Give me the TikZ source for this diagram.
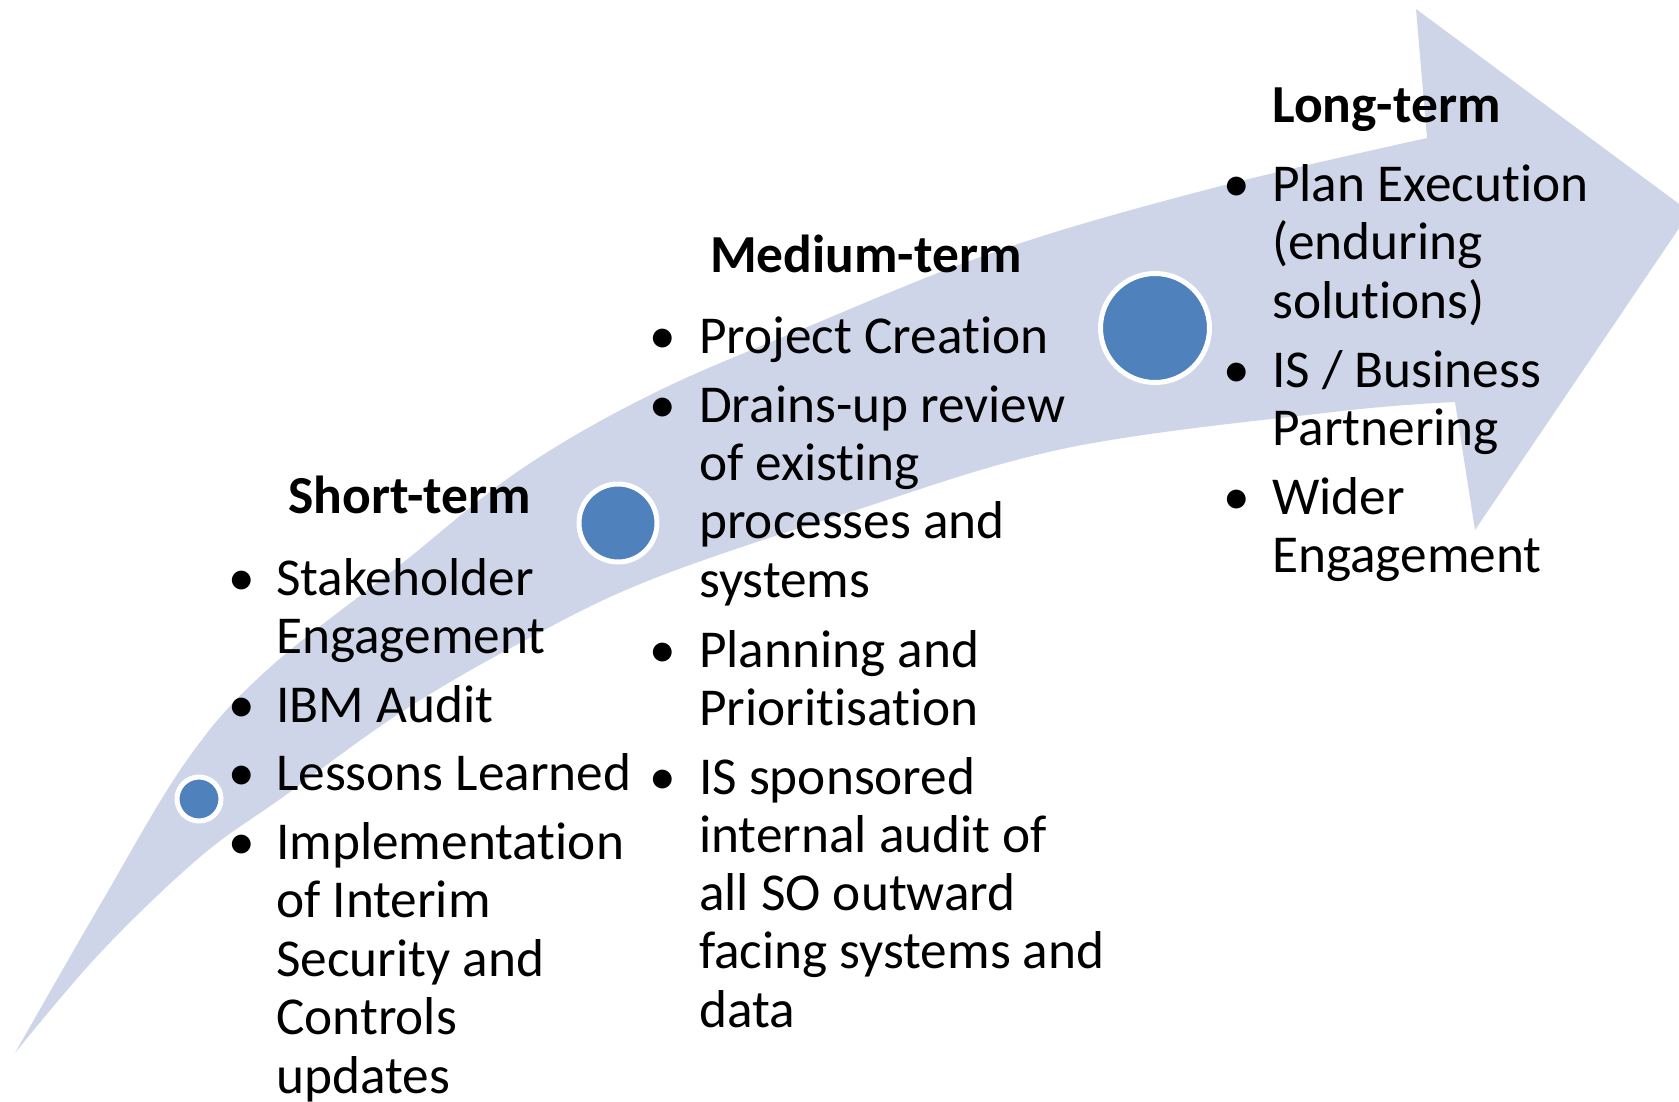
\documentclass[tikz,border=0pt]{standalone}
\usepackage{fontspec}
\setmainfont{Carlito}[Ligatures={NoCommon,NoContextual}]
\newcommand{\nolig}{\kern0pt{}}
\definecolor{bandcol}{HTML}{CFD5E8}
\definecolor{dotcol}{HTML}{4F81BD}
\begin{document}
\begin{tikzpicture}[x=1pt,y=-1pt,
  txt/.style={inner sep=0pt, anchor=base west, font=\fontsize{53.3}{58.5}\selectfont},
  hd/.style={inner sep=0pt, anchor=base west, font=\fontsize{53.5}{58.5}\selectfont\bfseries},
  bul/.style={inner sep=0pt, anchor=base, font=\fontsize{53.3}{58.5}\selectfont},
  dot/.style={circle, fill=dotcol, draw=white, line width=5pt, inner sep=0pt}]
\useasboundingbox (0,0) rectangle (1679,1101);
\begin{scope}
\clip (0,0) rectangle (1679,1101);
\fill[bandcol] plot[smooth, tension=0.6] coordinates {(15,1053) (100,905) (187,760) (267,670) (400,565) (520,470) (650,395) (800,330) (1000,250) (1213,188) (1427,138)}
  -- (1416,9) -- (1690,212) -- (1475,530)
  -- plot[smooth, tension=0.6] coordinates {(1455,402) (1333,412) (1067,448) (850,512) (650,580) (520,643) (400,713) (283,797) (200,857) (100,953) (15,1053)} -- cycle;
\end{scope}
% circles
\node[dot, minimum size=44pt] (c1) at (199,799) {};
\node[dot, minimum size=78pt] (c2) at (618,523) {};
\node[dot, minimum size=109pt] (c3) at (1155,328) {};
% short-term
\node[hd] (sh) at (288,513) {Short-term};
\node[bul] (sb1) at (242,595) {\textbullet};
\node[txt] (s1) at (276,595) {Stakeholder};
\node[txt] (s2) at (276,653.5) {Engagement};
\node[bul] (sb2) at (242,722) {\textbullet};
\node[txt] (s3) at (276,722) {IBM Audit};
\node[bul] (sb3) at (242,790) {\textbullet};
\node[txt] (s4) at (276,790) {Lessons Learned};
\node[bul] (sb4) at (242,859) {\textbullet};
\node[txt] (s5) at (276,859) {Implementat\nolig ion};
\node[txt] (s6) at (276,917.5) {of Interim};
\node[txt] (s7) at (276,976) {Security and};
\node[txt] (s8) at (276,1034.5) {Controls};
\node[txt] (s9) at (276,1093) {updates};
% medium-term
\node[hd] (mh) at (710,272) {Medium-term};
\node[bul] (mb1) at (663,353) {\textbullet};
\node[txt] (m1) at (699,353) {Project Creat\nolig ion};
\node[bul] (mb2) at (663,422) {\textbullet};
\node[txt] (m2) at (699,422) {Drains-up review};
\node[txt] (m3) at (699,480) {of exist\nolig ing};
\node[txt] (m4) at (699,538.5) {processes and};
\node[txt] (m5) at (699,597) {systems};
\node[bul] (mb3) at (663,667) {\textbullet};
\node[txt] (m6) at (699,667) {Planning and};
\node[txt] (m7) at (699,725.5) {Priorit\nolig isat\nolig ion};
\node[bul] (mb4) at (663,794) {\textbullet};
\node[txt] (m8) at (699,794) {IS sponsored};
\node[txt] (m9) at (699,852) {internal audit of};
\node[txt] (m10) at (699,910) {all SO outward};
\node[txt] (m11) at (699,968.5) {facing systems and};
\node[txt] (m12) at (699,1027) {data};
% long-term
\node[hd] (lh) at (1272,122) {Long-term};
\node[bul] (lb1) at (1237,201) {\textbullet};
\node[txt] (l1) at (1272,201) {Plan Execut\nolig ion};
\node[txt] (l2) at (1272,259.5) {(enduring};
\node[txt] (l3) at (1272,318) {solut\nolig ions)};
\node[bul] (lb2) at (1237,387) {\textbullet};
\node[txt] (l4) at (1272,387) {IS / Business};
\node[txt] (l5) at (1272,445.5) {Partnering};
\node[bul] (lb3) at (1237,514) {\textbullet};
\node[txt] (l6) at (1272,514) {Wider};
\node[txt] (l7) at (1272,572.5) {Engagement};
\end{tikzpicture}
\end{document}
